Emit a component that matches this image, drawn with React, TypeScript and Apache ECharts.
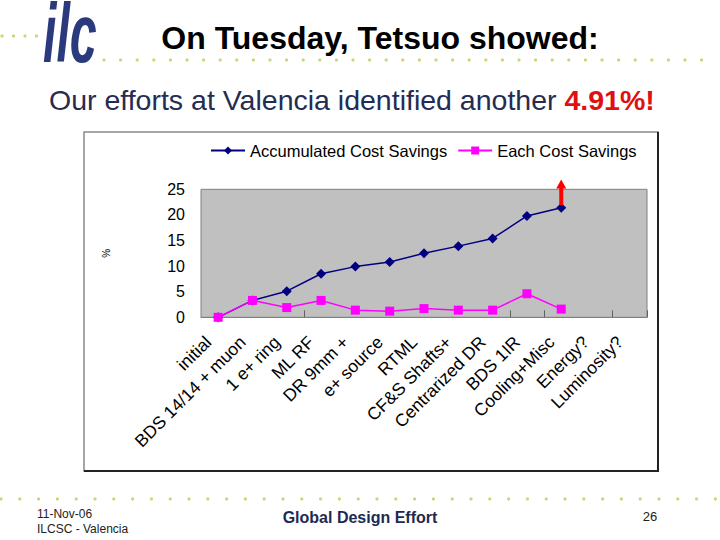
import React, { useEffect, useRef } from "react";
import * as echarts from "echarts";

const categories = [
  "initial",
  "BDS 14/14 + muon",
  "1 e+ ring",
  "ML RF",
  "DR 9mm +",
  "e+ source",
  "RTML",
  "CF&S Shafts+",
  "Centrarized DR",
  "BDS 1IR",
  "Cooling+Misc",
  "Energy?",
  "Luminosity?",
];
const accumulated = [0, 3.3, 5.1, 8.5, 9.9, 10.8, 12.5, 13.9, 15.4, 19.8, 21.4];
const each = [0, 3.3, 1.9, 3.3, 1.4, 1.2, 1.7, 1.4, 1.4, 4.6, 1.6];
const yTicks = { min: 0, max: 25, interval: 5 };
const arrowFrom = 21.9;
const arrowTo = 26.9;

const FONT = "'Liberation Sans', Arial, sans-serif";
const DOT = "#c9d873";

function dotRow(y: number, x0: number, x1: number, step: number, prefix: string) {
  const out: any[] = [];
  let i = 0;
  for (let x = x0; x <= x1; x += step) {
    out.push({
      type: "circle",
      id: prefix + i++,
      shape: { cx: x, cy: y, r: 1.6 },
      style: { fill: DOT },
      silent: true,
      z: 1,
    });
  }
  return out;
}

export default function App() {
  const ref = useRef<HTMLDivElement>(null);
  useEffect(() => {
    if (!ref.current) return;
    const chart = echarts.init(ref.current, undefined, { renderer: "svg" });
    const staticGraphics: any[] = [
      ...dotRow(36, 2, 44, 11.5, "dA"),
      ...dotRow(60, 104, 718, 16.6, "dB"),
      ...dotRow(499, 1, 718, 18.8, "dC"),
      {
        type: "rect",
        id: "box",
        shape: { x: 84, y: 132, width: 574, height: 339 },
        style: { fill: "#ffffff", stroke: "#8a8a8a", lineWidth: 1.5 },
        z: -10,
        silent: true,
      },
      {
        type: "polyline",
        id: "boxShadow",
        shape: { points: [[658, 132], [658, 471], [84, 471]] },
        style: { stroke: "#222", lineWidth: 2, fill: null },
        z: 0,
        silent: true,
      },
      {
        type: "text",
        id: "logo",
        x: 43,
        y: 33,
        scaleX: 1.05,
        scaleY: 1.8,
        style: {
          text: "ilc",
          font: `italic bold 46px ${FONT}`,
          lineHeight: 34,
          fill: "#2a3a7c",
          verticalAlign: "middle",
        },
        z: 5,
      },
      {
        type: "text",
        id: "title",
        x: 380,
        y: 38,
        style: {
          text: "On Tuesday, Tetsuo showed:",
          font: `bold 32px ${FONT}`,
          fill: "#000",
          align: "center",
          verticalAlign: "middle",
        },
      },
      {
        type: "text",
        id: "subtitle",
        x: 49,
        y: 100,
        style: {
          text: "{a|Our efforts at Valencia identified another }{b|4.91%!}",
          verticalAlign: "middle",
          rich: {
            a: { font: `28.5px ${FONT}`, fill: "#242c52", color: "#242c52" },
            b: { font: `bold 28.5px ${FONT}`, fill: "#e01010", color: "#e01010" },
          },
        },
      },
      {
        type: "text",
        id: "f1",
        x: 37,
        y: 514,
        style: {
          text: "11-Nov-06",
          font: `12px ${FONT}`,
          fill: "#222",
          verticalAlign: "middle",
        },
      },
      {
        type: "text",
        id: "f2",
        x: 37,
        y: 529,
        style: {
          text: "ILCSC - Valencia",
          font: `12px ${FONT}`,
          fill: "#222",
          verticalAlign: "middle",
        },
      },
      {
        type: "text",
        id: "f3",
        x: 360,
        y: 517,
        style: {
          text: "Global Design Effort",
          font: `bold 16px ${FONT}`,
          fill: "#1f2a50",
          align: "center",
          verticalAlign: "middle",
        },
      },
      {
        type: "text",
        id: "f4",
        x: 650,
        y: 516,
        style: {
          text: "26",
          font: `13px ${FONT}`,
          fill: "#222",
          align: "center",
          verticalAlign: "middle",
        },
      },
    ];

    const option: any = {
      animation: false,
      backgroundColor: "#ffffff",
      textStyle: { fontFamily: FONT },
      graphic: { elements: staticGraphics },
      legend: {
        left: 205,
        top: 137,
        itemWidth: 34,
        itemHeight: 10,
        itemGap: 10,
        textStyle: { fontSize: 16.5, color: "#000", fontFamily: FONT },
        data: ["Accumulated Cost Savings", "Each Cost Savings"],
      },
      grid: {
        left: 201,
        top: 189.3,
        width: 446,
        height: 128,
        show: true,
        backgroundColor: "#c0c0c0",
        borderColor: "#808080",
        borderWidth: 1,
        containLabel: false,
      },
      xAxis: {
        type: "category",
        data: categories,
        boundaryGap: true,
        axisLine: { show: true, lineStyle: { color: "#808080", width: 1 } },
        axisTick: {
          show: true,
          inside: true,
          length: 7,
          lineStyle: { color: "#606060" },
          interval: (i: number) => [3, 9, 10, 12].includes(i),
        },
        axisLabel: {
          interval: 0,
          rotate: 45,
          margin: 12,
          padding: [0, 14, 0, 0],
          fontSize: 17.5,
          color: "#000",
          fontFamily: FONT,
        },
        splitLine: { show: false },
      },
      yAxis: {
        type: "value",
        min: yTicks.min,
        max: yTicks.max,
        interval: yTicks.interval,
        name: "%",
        nameLocation: "middle",
        nameGap: 90,
        nameRotate: 90,
        nameTextStyle: { fontSize: 10, color: "#000" },
        axisLine: { show: false },
        axisTick: { show: false },
        axisLabel: { fontSize: 16, color: "#000", margin: 16, fontFamily: FONT },
        splitLine: { show: false },
      },
      series: [
        {
          name: "Accumulated Cost Savings",
          type: "line",
          data: accumulated,
          symbol: "diamond",
          symbolSize: 10,
          itemStyle: { color: "#000080" },
          lineStyle: { color: "#000080", width: 1.5 },
          z: 2,
        },
        {
          name: "Each Cost Savings",
          type: "line",
          data: each,
          symbol: "rect",
          symbolSize: 9,
          itemStyle: { color: "#ff00ff" },
          lineStyle: { color: "#ff00ff", width: 1.5 },
          z: 3,
        },
      ],
    };
    chart.setOption(option);

    const idx = accumulated.length - 1;
    const pBase = chart.convertToPixel({ xAxisIndex: 0, yAxisIndex: 0 }, [categories[idx], arrowFrom]);
    const pTip = chart.convertToPixel({ xAxisIndex: 0, yAxisIndex: 0 }, [categories[idx], arrowTo]);
    if (pBase && pTip) {
      const headLen = 9;
      const headHalf = 5;
      chart.setOption({
        graphic: {
          elements: [
            {
              type: "line",
              id: "arrowShaft",
              shape: { x1: pBase[0], y1: pBase[1], x2: pTip[0], y2: pTip[1] + headLen - 1 },
              style: { stroke: "#ff0000", lineWidth: 4 },
              z: 10,
            },
            {
              type: "polygon",
              id: "arrowHead",
              shape: {
                points: [
                  [pTip[0], pTip[1]],
                  [pTip[0] - headHalf, pTip[1] + headLen],
                  [pTip[0] + headHalf, pTip[1] + headLen],
                ],
              },
              style: { fill: "#ff0000" },
              z: 10,
            },
          ],
        },
      });
    }

    return () => chart.dispose();
  }, []);

  return (
    <div
      ref={ref}
      style={{ position: "fixed", left: 0, top: 0, width: 720, height: 540 }}
    />
  );
}
